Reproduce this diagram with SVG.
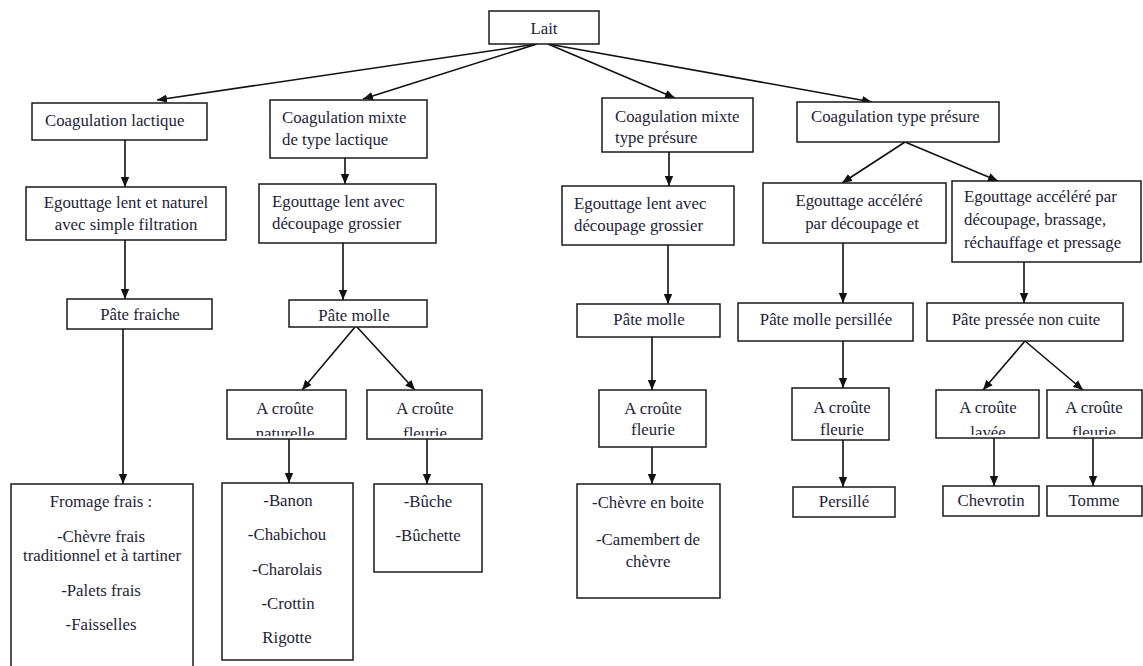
<svg xmlns="http://www.w3.org/2000/svg" width="1143" height="666" viewBox="0 0 1143 666">
<style>
.box{fill:#fff;stroke:#1a1a1a;stroke-width:1.5}
.t{font-size:16.8px;fill:#1e1e38}
.c{text-anchor:middle}
.ln{stroke:#111;stroke-width:1.6;fill:none;marker-end:url(#ah)}
</style>
<defs>
<marker id="ah" markerUnits="userSpaceOnUse" markerWidth="10" markerHeight="10" refX="10" refY="5" orient="auto">
<path d="M0,0.8 L10,5 L0,9.2 z" fill="#111"/>
</marker>
<clipPath id="cp1"><rect x="227" y="390" width="119" height="46"/></clipPath>
<clipPath id="cp2"><rect x="367" y="390" width="115" height="46"/></clipPath>
<clipPath id="cp3"><rect x="936" y="390" width="103" height="45"/></clipPath>
<clipPath id="cp4"><rect x="1047" y="390" width="95" height="45"/></clipPath>
</defs>
<rect width="1143" height="666" fill="#fff"/>
<g id="connectors">
<line class="ln" x1="537" y1="44" x2="157" y2="100"/>
<line class="ln" x1="537" y1="44" x2="363" y2="99"/>
<line class="ln" x1="548" y1="44" x2="675" y2="98"/>
<line class="ln" x1="548" y1="44" x2="872" y2="102"/>
<line class="ln" x1="125" y1="140" x2="125" y2="187"/>
<line class="ln" x1="345" y1="158" x2="345" y2="184"/>
<line class="ln" x1="669" y1="152" x2="669" y2="186"/>
<line class="ln" x1="905" y1="142" x2="842" y2="183"/>
<line class="ln" x1="905" y1="142" x2="998" y2="181"/>
<line class="ln" x1="125" y1="240" x2="125" y2="299"/>
<line class="ln" x1="343" y1="243" x2="343" y2="300"/>
<line class="ln" x1="668" y1="245" x2="668" y2="304"/>
<line class="ln" x1="843" y1="243" x2="843" y2="303"/>
<line class="ln" x1="1024" y1="262" x2="1024" y2="303"/>
<line class="ln" x1="123" y1="329" x2="123" y2="484"/>
<line class="ln" x1="355" y1="327" x2="302" y2="390"/>
<line class="ln" x1="357" y1="327" x2="415" y2="390"/>
<line class="ln" x1="652" y1="337" x2="652" y2="390"/>
<line class="ln" x1="843" y1="341" x2="843" y2="388"/>
<line class="ln" x1="1025" y1="341" x2="983" y2="390"/>
<line class="ln" x1="1025" y1="341" x2="1083" y2="390"/>
<line class="ln" x1="289" y1="439" x2="289" y2="483"/>
<line class="ln" x1="427" y1="439" x2="427" y2="484"/>
<line class="ln" x1="652" y1="447" x2="652" y2="484"/>
<line class="ln" x1="843" y1="440" x2="843" y2="487"/>
<line class="ln" x1="994" y1="438" x2="994" y2="486"/>
<line class="ln" x1="1093" y1="438" x2="1093" y2="486"/>
</g>
<g font-family="'Liberation Serif', 'DejaVu Serif', serif">
<g id="lait"><rect class="box" x="489" y="11" width="110" height="33"/><text class="t c" x="544" y="34">Lait</text></g>
<g id="coag-lactique"><rect class="box" x="32" y="103" width="175" height="37"/><text class="t" x="45" y="126">Coagulation lactique</text></g>
<g id="coag-mixte-lactique"><rect class="box" x="270" y="100" width="157" height="58"/><text class="t" x="282" y="123">Coagulation mixte</text><text class="t" x="282" y="145">de type lactique</text></g>
<g id="coag-mixte-presure"><rect class="box" x="602" y="98" width="151" height="54"/><text class="t" x="615" y="122">Coagulation mixte</text><text class="t" x="615" y="143">type présure</text></g>
<g id="coag-presure"><rect class="box" x="797" y="102" width="202" height="40"/><text class="t" x="811" y="122">Coagulation type présure</text></g>
<g id="egout-naturel"><rect class="box" x="26" y="187" width="200" height="53"/><text class="t c" x="126" y="208">Egouttage lent et naturel</text><text class="t c" x="126" y="230">avec simple filtration</text></g>
<g id="egout-grossier-1"><rect class="box" x="259" y="184" width="177" height="59"/><text class="t" x="272" y="207">Egouttage lent avec</text><text class="t" x="272" y="229">découpage grossier</text></g>
<g id="egout-grossier-2"><rect class="box" x="562" y="186" width="172" height="59"/><text class="t" x="574" y="209">Egouttage lent avec</text><text class="t" x="574" y="231">découpage grossier</text></g>
<g id="egout-accel-1"><rect class="box" x="763" y="183" width="183" height="60"/><text class="t c" x="859" y="206">Egouttage accéléré</text><text class="t c" x="862" y="229">par découpage et</text></g>
<g id="egout-accel-2"><rect class="box" x="952" y="181" width="189" height="81"/><text class="t" x="964" y="202">Egouttage accéléré par</text><text class="t" x="964" y="225">découpage, brassage,</text><text class="t" x="964" y="248">réchauffage et pressage</text></g>
<g id="pate-fraiche"><rect class="box" x="67" y="299" width="145" height="30"/><text class="t c" x="140" y="320">Pâte fraiche</text></g>
<g id="pate-molle-1"><rect class="box" x="289" y="300" width="138" height="27"/><text class="t c" x="354" y="321">Pâte molle</text></g>
<g id="pate-molle-2"><rect class="box" x="577" y="304" width="143" height="33"/><text class="t c" x="649" y="325">Pâte molle</text></g>
<g id="pate-persillee"><rect class="box" x="738" y="303" width="175" height="38"/><text class="t c" x="826" y="325">Pâte molle persillée</text></g>
<g id="pate-pressee"><rect class="box" x="927" y="303" width="196" height="38"/><text class="t c" x="1026" y="325">Pâte pressée non cuite</text></g>
<g id="croute-naturelle"><rect class="box" x="227" y="390" width="119" height="49"/><text class="t c" x="285" y="414">A croûte</text><text class="t c" x="285" y="439" clip-path="url(#cp1)">naturelle</text></g>
<g id="croute-fleurie-1"><rect class="box" x="367" y="390" width="115" height="49"/><text class="t c" x="425" y="414">A croûte</text><text class="t c" x="425" y="439" clip-path="url(#cp2)">fleurie</text></g>
<g id="croute-fleurie-2"><rect class="box" x="599" y="390" width="107" height="57"/><text class="t c" x="653" y="414">A croûte</text><text class="t c" x="653" y="435">fleurie</text></g>
<g id="croute-fleurie-3"><rect class="box" x="792" y="388" width="97" height="52"/><text class="t c" x="842" y="413">A croûte</text><text class="t c" x="842" y="435">fleurie</text></g>
<g id="croute-lavee"><rect class="box" x="936" y="390" width="103" height="48"/><text class="t c" x="988" y="413">A croûte</text><text class="t c" x="988" y="438" clip-path="url(#cp3)">lavée</text></g>
<g id="croute-fleurie-4"><rect class="box" x="1047" y="390" width="95" height="48"/><text class="t c" x="1094" y="413">A croûte</text><text class="t c" x="1094" y="438" clip-path="url(#cp4)">fleurie</text></g>
<g id="fromage-frais"><rect class="box" x="11" y="484" width="182" height="200"/><text class="t c" x="101" y="507">Fromage frais :</text><text class="t c" x="101" y="542">-Chèvre frais</text><text class="t c" x="102" y="561">traditionnel et à tartiner</text><text class="t c" x="101" y="596">-Palets frais</text><text class="t c" x="101" y="630">-Faisselles</text></g>
<g id="banon"><rect class="box" x="222" y="483" width="131" height="177"/><text class="t c" x="288" y="506">-Banon</text><text class="t c" x="287" y="540">-Chabichou</text><text class="t c" x="287" y="575">-Charolais</text><text class="t c" x="288" y="609">-Crottin</text><text class="t c" x="287" y="643">Rigotte</text></g>
<g id="buche"><rect class="box" x="374" y="484" width="108" height="88"/><text class="t c" x="428" y="507">-Bûche</text><text class="t c" x="428" y="541">-Bûchette</text></g>
<g id="chevre-boite"><rect class="box" x="577" y="484" width="143" height="114"/><text class="t c" x="648" y="508">-Chèvre en boite</text><text class="t c" x="648" y="545">-Camembert de</text><text class="t c" x="648" y="567">chèvre</text></g>
<g id="persille"><rect class="box" x="793" y="487" width="102" height="30"/><text class="t c" x="844" y="507">Persillé</text></g>
<g id="chevrotin"><rect class="box" x="943" y="486" width="96" height="30"/><text class="t c" x="991" y="506">Chevrotin</text></g>
<g id="tomme"><rect class="box" x="1047" y="486" width="95" height="30"/><text class="t c" x="1094" y="506">Tomme</text></g>
</g>
</svg>
